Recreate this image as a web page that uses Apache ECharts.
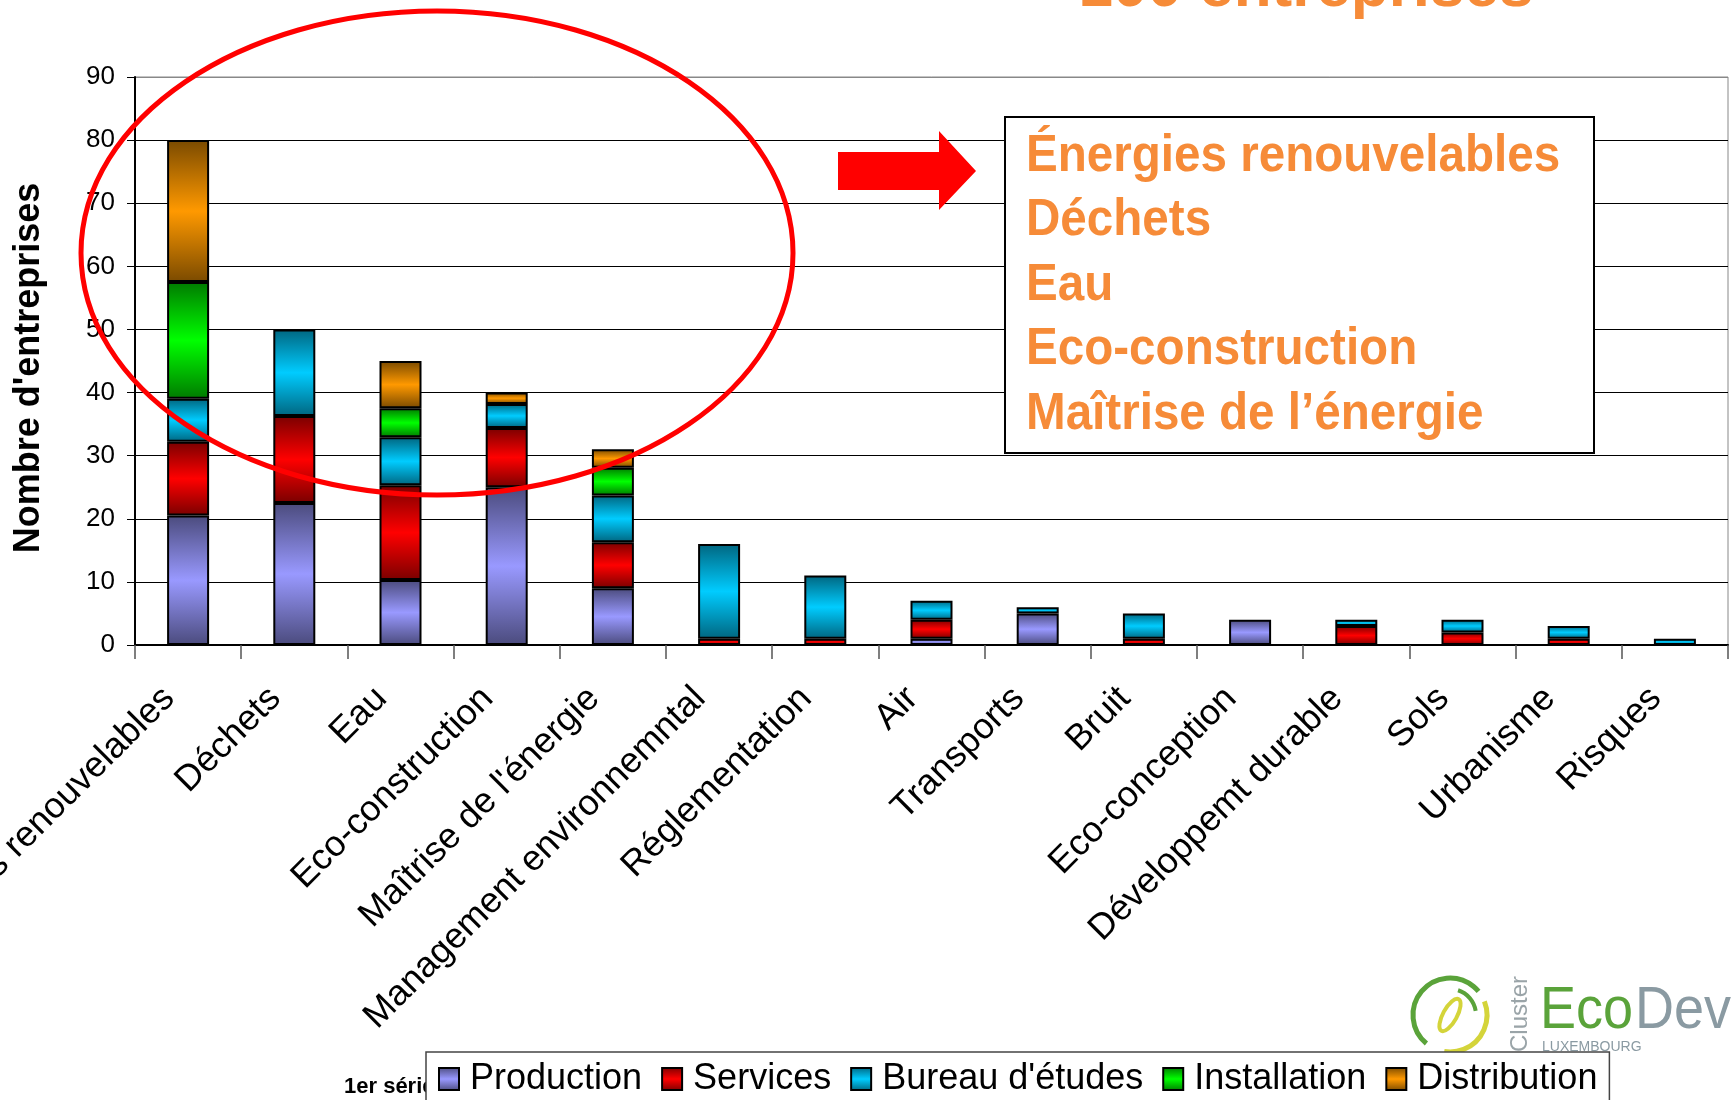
<html>
<head>
    <meta http-equiv="Content-Type" content="text/html; charset=utf-8" />
    <script src="https://cdn.jsdelivr.net/npm/echarts@6/dist/echarts.min.js"></script>
    <style>
        body { margin: 0; background: #fff; }
        #main { width: 1736px; height: 1100px; }
    </style>
</head>
<body>
    <div id="main"></div>
    <script type="text/javascript">

        // données
        var categories = ['Energies renouvelables', 'Déchets', 'Eau', 'Eco-construction', "Maîtrise de l'énergie",
            'Management environnemntal', 'Réglementation', 'Air', 'Transports', 'Bruit', 'Eco-conception',
            'Développemt durable', 'Sols', 'Urbanisme', 'Risques'];
        var production = [20.5, 22.5, 10.3, 25, 9, 0, 0, 1, 5, 0, 4, 0, 0, 0, 0];
        var services = [11.7, 13.8, 15, 9.4, 7.3, 1, 1, 3, 0, 1, 0, 3, 2, 1, 0];
        var bureau = [6.8, 13.7, 7.6, 3.8, 7.4, 15, 10, 3, 1, 4, 0, 1, 2, 2, 1];
        var installation = [18.5, 0, 4.6, 0, 4.4, 0, 0, 0, 0, 0, 0, 0, 0, 0, 0];
        var distribution = [22.5, 0, 7.5, 1.8, 2.9, 0, 0, 0, 0, 0, 0, 0, 0, 0, 0];
        var seriesNames = ['Production', 'Services', "Bureau d'études", 'Installation', 'Distribution'];
        var boxLines = ['Énergies renouvelables', 'Déchets', 'Eau', 'Eco-construction', 'Maîtrise de l’énergie'];

        var lightColors = ['#9999FF', '#FF0000', '#00CCFF', '#00FF00', '#FF9900'];
        var darkColors = ['#4B4B7D', '#7A0000', '#006680', '#007A00', '#7A4A00'];
        var orange = '#F68B38';

        function grad(i) {
            return new echarts.graphic.LinearGradient(0, 0, 0, 1, [
                { offset: 0, color: darkColors[i] },
                { offset: 0.5, color: lightColors[i] },
                { offset: 1, color: darkColors[i] }
            ]);
        }

        var allData = [production, services, bureau, installation, distribution];
        var series = [];
        for (var i = 0; i < allData.length; i++) {
            series.push({
                name: seriesNames[i],
                type: 'bar',
                stack: 'total',
                barWidth: 42,
                data: allData[i].map(function (v) { return v === 0 ? '-' : v; }),
                itemStyle: { color: grad(i), borderColor: '#000', borderWidth: 2 }
            });
        }

        var splitColors = [];
        for (var k = 0; k < 9; k++) splitColors.push('#000');
        splitColors.push('#888');

        // titre, ellipse, flèche, cadre, logo
        var graphics = [
            {
                type: 'text', x: 1306, y: -11, z: 50,
                style: { text: '100 entreprises', fontSize: 62, fontWeight: 'bold', fontFamily: 'Arial',
                    fill: orange, align: 'center', verticalAlign: 'middle' }
            },
            {
                type: 'text', x: 29, y: 368, z: 5, rotation: Math.PI / 2,
                style: { text: "Nombre d'entreprises", fontSize: 36, fontWeight: 'bold', fontFamily: 'Arial',
                    fill: '#000', align: 'center', verticalAlign: 'middle' }
            },
            {
                type: 'ellipse', z: 100,
                shape: { cx: 437, cy: 253, rx: 356, ry: 242 },
                style: { fill: 'none', stroke: '#FF0000', lineWidth: 5 }
            },
            {
                type: 'polygon', z: 100,
                shape: { points: [[838, 152], [939, 152], [939, 131], [976, 171], [939, 210], [939, 190], [838, 190]] },
                style: { fill: '#FF0000' }
            },
            {
                type: 'rect', z: 100,
                shape: { x: 1005, y: 117, width: 589, height: 336 },
                style: { fill: '#fff', stroke: '#000', lineWidth: 2 }
            },
            {
                type: 'text', x: 344, y: 1087, z: 1,
                style: { text: '1er série', fontSize: 22, fontWeight: 'bold', fontFamily: 'Arial',
                    fill: '#000', align: 'left', verticalAlign: 'middle' }
            },
            {
                type: 'arc', z: 1,
                shape: { cx: 1450, cy: 1015, r: 37, startAngle: Math.PI * 0.72, endAngle: Math.PI * 1.78 },
                style: { fill: 'none', stroke: '#5AA33A', lineWidth: 5 }
            },
            {
                type: 'arc', z: 1,
                shape: { cx: 1450, cy: 1015, r: 37, startAngle: Math.PI * 1.88, endAngle: Math.PI * 2.55 },
                style: { fill: 'none', stroke: '#D4D43A', lineWidth: 5 }
            },
            {
                type: 'arc', z: 1,
                shape: { cx: 1450, cy: 1015, r: 26, startAngle: Math.PI * 1.6, endAngle: Math.PI * 1.95 },
                style: { fill: 'none', stroke: '#5AA33A', lineWidth: 4 }
            },
            {
                type: 'ellipse', z: 1, x: 1450, y: 1015, rotation: -0.5,
                shape: { cx: 0, cy: 0, rx: 7, ry: 18 },
                style: { fill: 'none', stroke: '#D4D43A', lineWidth: 4 }
            },
            {
                type: 'text', x: 1520, y: 1052, z: 1, rotation: Math.PI / 2,
                style: { text: 'Cluster', fontSize: 24, fontFamily: 'Arial', fill: '#9AA4A8',
                    align: 'left', verticalAlign: 'middle' }
            },
            {
                type: 'text', x: 1540, y: 1011, z: 1, scaleX: 0.9,
                style: { text: 'Eco', fontSize: 60, fontFamily: 'Arial', fill: '#5AA33A',
                    align: 'left', verticalAlign: 'middle' }
            },
            {
                type: 'text', x: 1635, y: 1011, z: 1, scaleX: 0.9,
                style: { text: 'Dev', fontSize: 60, fontFamily: 'Arial', fill: '#8A9AA2',
                    align: 'left', verticalAlign: 'middle' }
            },
            {
                type: 'text', x: 1542, y: 1047, z: 1,
                style: { text: 'LUXEMBOURG', fontSize: 14, fontFamily: 'Arial', fill: '#8A9AA2',
                    align: 'left', verticalAlign: 'middle' }
            }
        ];
        var lineY = [157, 221, 286, 350, 415];
        for (var j = 0; j < boxLines.length; j++) {
            graphics.push({
                type: 'text', x: 1026, y: lineY[j], z: 101, scaleX: 0.915,
                style: { text: boxLines[j], fontSize: 52, fontWeight: 'bold', fontFamily: 'Arial',
                    fill: orange, align: 'left', verticalAlign: 'middle' }
            });
        }

        var option = {
            animation: false,
            backgroundColor: '#fff',
            grid: {
                left: 135, right: 8, top: 77, bottom: 455, outerBoundsMode: 'none', containLabel: false,
                show: true, borderColor: '#888', borderWidth: 1
            },
            legend: {
                left: 426, top: 1052, z: 10,
                icon: 'rect',
                itemWidth: 20, itemHeight: 22, itemGap: 19,
                padding: [9, 12, 40, 12],
                backgroundColor: '#fff', borderColor: '#444', borderWidth: 1.5,
                textStyle: { fontSize: 36, color: '#000', fontFamily: 'Arial', padding: [0, 0, 0, 6] },
                data: seriesNames
            },
            xAxis: {
                type: 'category',
                data: categories,
                axisLine: { lineStyle: { color: '#000', width: 2 } },
                axisTick: { show: true, length: 14, interval: 0, lineStyle: { color: '#555', width: 1.5 } },
                axisLabel: {
                    interval: 0, rotate: 45, fontSize: 36, fontFamily: 'Arial', color: '#000',
                    margin: 29, padding: [0, 27, 0, 0]
                }
            },
            yAxis: {
                type: 'value',
                min: 0, max: 90, interval: 10,
                axisLine: { show: true, lineStyle: { color: '#000', width: 2 } },
                axisTick: { show: true, length: 8, lineStyle: { color: '#000' } },
                axisLabel: { fontSize: 26, fontFamily: 'Arial', color: '#000', margin: 20 },
                splitLine: { show: true, lineStyle: { color: splitColors, width: 1.2 } }
            },
            graphic: graphics,
            series: series
        };

        var myChart = echarts.init(document.getElementById('main'));
        myChart.setOption(option);

    </script>
</body>
</html>
